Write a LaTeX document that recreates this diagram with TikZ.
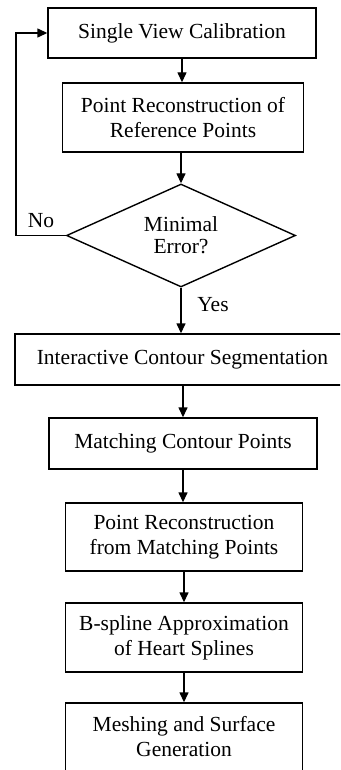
\documentclass[tikz,border=0pt]{standalone}
\usepackage{fontspec}
\setmainfont{Liberation Serif}
\usetikzlibrary{shapes.geometric,arrows.meta}
\tikzset{
  stepbox/.style={draw, line width=1.4pt, rectangle, inner sep=0pt, align=center,
    font=\fontsize{21.5}{25}\selectfont},
  decision/.style={draw, line width=1.4pt, diamond, aspect=2.2, inner sep=0pt, align=center,
    font=\fontsize{21.5}{22}\selectfont, minimum width=229pt, minimum height=103pt},
  flow/.style={line width=1.4pt, -{Triangle[length=10pt,width=9pt]}},
  lbl/.style={font=\fontsize{21.5}{25}\selectfont, inner sep=0pt}
}
\begin{document}
\begin{tikzpicture}[x=1pt,y=-1pt]
\useasboundingbox (0,0) rectangle (340,770);
\clip (0,0) rectangle (340,770);
\fill[white] (0,0) rectangle (340,770);
\node[stepbox, minimum width=268pt, minimum height=50pt] (b1) at (182,33) {Single View Calibration};
\node[stepbox, minimum width=241pt, minimum height=69pt] (b2) at (183,117.5) {Point Reconstruction of\\Reference Points};
\node[decision] (d) at (181,235.5) {Minimal\\Error?};
\node[stepbox, minimum width=335pt, minimum height=51pt] (b3) at (182.5,359.5) {Interactive Contour Segmentation};
\node[stepbox, minimum width=268pt, minimum height=51pt] (b4) at (183,443.5) {Matching Contour Points};
\node[stepbox, minimum width=237pt, minimum height=68pt] (b5) at (184,537) {Point Reconstruction\\from Matching Points};
\node[stepbox, minimum width=237pt, minimum height=69pt] (b6) at (184,637.5) {B-spline Approximation\\of Heart Splines};
\node[stepbox, minimum width=237pt, minimum height=68pt] (b7) at (184,737) {Meshing and Surface\\Generation};
\coordinate (loopA) at (16,235.5);
\node[lbl] (no) at (41,221) {No};
\node[lbl] (yes) at (213,305) {Yes};
\draw[flow] (b1.south) -- (b1.south |- b2.north);
\draw[flow] (b2.south -| d.north) -- (d.north);
\draw[flow] (d.south) -- (d.south |- b3.north);
\draw[flow] (b4.north |- b3.south) -- (b4.north);
\draw[flow] (b4.south) -- (b4.south |- b5.north);
\draw[flow] (b5.south) -- (b6.north);
\draw[flow] (b6.south) -- (b7.north);
\draw[flow] (d.west) -- (loopA) |- (b1.west);
\end{tikzpicture}
\end{document}
